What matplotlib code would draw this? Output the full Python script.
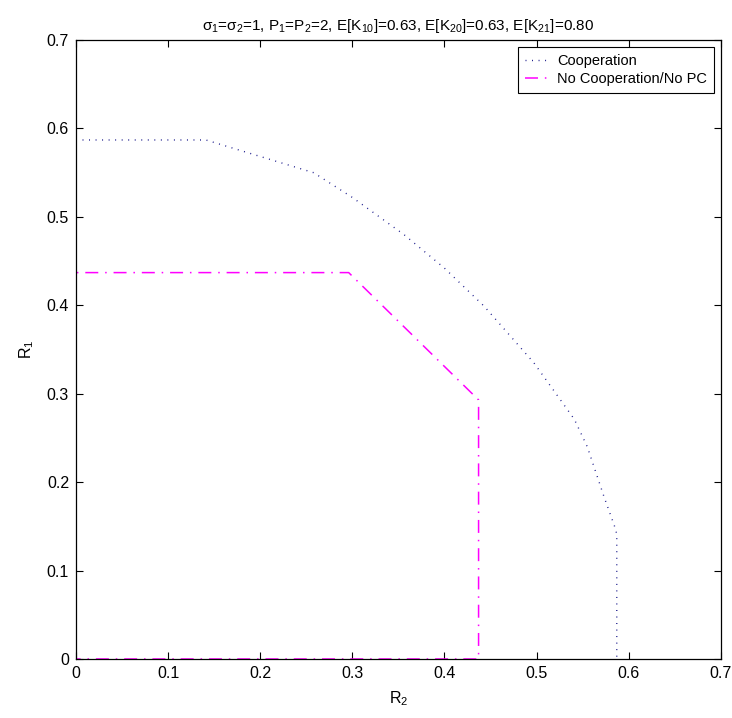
import numpy as np
import matplotlib
matplotlib.use("Agg")
import matplotlib.pyplot as plt

plt.rcParams['font.family'] = ['Liberation Sans', 'DejaVu Sans']
plt.rcParams['mathtext.fontset'] = 'custom'
plt.rcParams['mathtext.rm'] = 'Liberation Sans'
plt.rcParams['mathtext.it'] = 'Liberation Sans'

# rate region boundaries (R2, R1)
coop_r2 = [0.0, 0.141, 0.258, 0.30, 0.356, 0.40, 0.443, 0.497, 0.541, 0.555, 0.573, 0.586, 0.587, 0.587]
coop_r1 = [0.587, 0.587, 0.550, 0.522, 0.480, 0.442, 0.399, 0.335, 0.271, 0.240, 0.184, 0.146, 0.140, 0.0]

nocoop_r2 = [0.0, 0.0, 0.296, 0.437, 0.437, 0.0]
nocoop_r1 = [0.0, 0.437, 0.437, 0.293, 0.0, 0.0]

ticks = [0, 0.1, 0.2, 0.3, 0.4, 0.5, 0.6, 0.7]
tick_labels = ['0', '0.1', '0.2', '0.3', '0.4', '0.5', '0.6', '0.7']

fig = plt.figure(figsize=(7.32, 7.18), dpi=100)
ax = fig.add_axes([0.1038, 0.0822, 0.881, 0.862])

ax.plot(coop_r2, coop_r1, color='#1c1c8c', lw=1.0, linestyle=(0, (0.7, 4.0)),
        label='Cooperation')
ax.plot(nocoop_r2, nocoop_r1, color='#ff00ff', lw=1.1, linestyle=(0, (8.5, 4.5, 1.0, 4.5)),
        label='No Cooperation/No PC')

ax.set_xlim(0, 0.7)
ax.set_ylim(0, 0.7)
ax.set_xticks(ticks)
ax.set_xticklabels(tick_labels)
ax.set_yticks(ticks)
ax.set_yticklabels(tick_labels)
ax.tick_params(direction='in', length=5, width=0.8, top=True, right=True, labelsize=11.5, pad=5)
for s in ax.spines.values():
    s.set_linewidth(0.9)

ax.set_xlabel('R$_2$', fontsize=11.5, labelpad=6)
ax.set_ylabel('R$_1$', fontsize=11.5, labelpad=8)
ax.set_title('$\\sigma_1$=$\\sigma_2$=1, P$_1$=P$_2$=2, E[K$_{10}$]=0.63, E[K$_{20}$]=0.63, E[K$_{21}$]=0.80',
             fontsize=11, pad=7)

leg = ax.legend(loc='upper right', fontsize=10.5, fancybox=False, framealpha=1,
                edgecolor='black', borderaxespad=0.5, handlelength=1.6,
                handletextpad=0.6, borderpad=0.45, labelspacing=0.3)
leg.get_frame().set_linewidth(0.8)

fig.savefig('out.png', dpi=100)
